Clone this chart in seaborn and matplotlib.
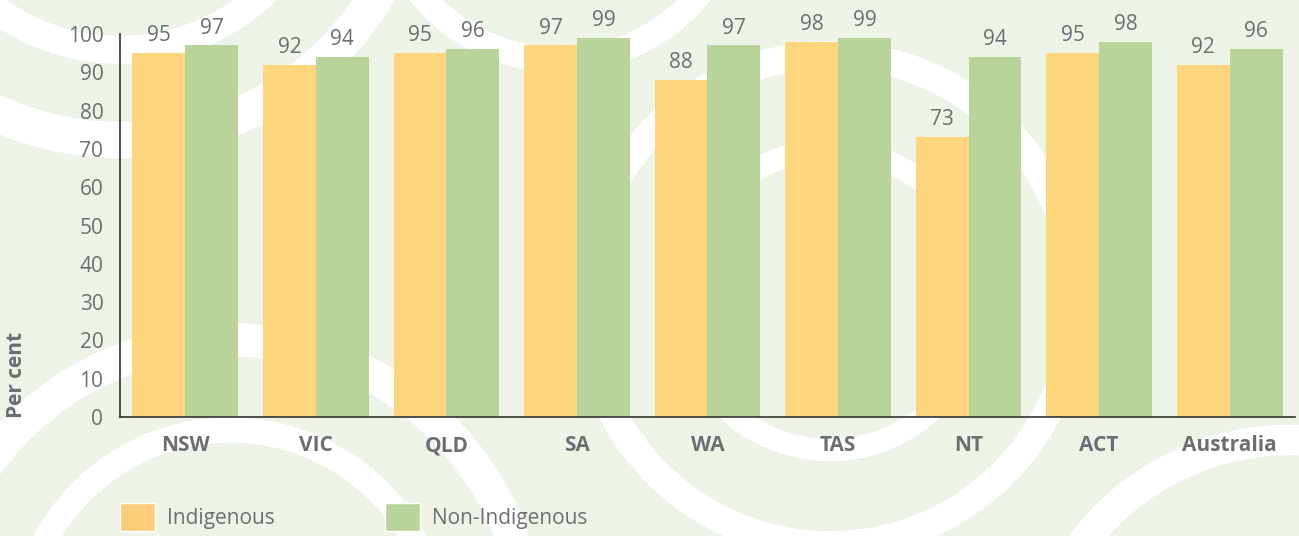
import matplotlib.pyplot as plt
import seaborn as sns
import pandas as pd
from matplotlib.patches import Patch, Circle

# Data
states = ["NSW", "VIC", "QLD", "SA", "WA", "TAS", "NT", "ACT", "Australia"]
indigenous = [95, 92, 95, 97, 88, 98, 73, 95, 92]
non_indigenous = [97, 94, 96, 99, 97, 99, 94, 98, 96]
groups = ["Indigenous", "Non-Indigenous"]
y_ticks = list(range(0, 101, 10))

YELLOW = "#fdd57c"
GREEN = "#b8d49a"
GREY = "#6d6e71"
BG = "#eef3e7"
FS = 15

df = pd.DataFrame({
    "state": states * 2,
    "group": [groups[0]] * len(states) + [groups[1]] * len(states),
    "value": indigenous + non_indigenous,
})

sns.set_theme(style="white")
plt.rcParams["font.family"] = ["Open Sans", "DejaVu Sans"]

fig = plt.figure(figsize=(12.99, 5.36), dpi=100)
fig.patch.set_facecolor(BG)

# ======================================================
# Decorative background rings
# ======================================================
bg = fig.add_axes([0, 0, 1, 1], zorder=0)
bg.set_xlim(0, 1299)
bg.set_ylim(536, 0)
bg.axis("off")
rings = [
    (230, 640, 300, 24), (230, 640, 210, 18),
    (120, -160, 300, 26), (120, -160, 210, 20),
    (830, 300, 150, 16), (830, 300, 245, 20),
    (1290, 700, 260, 22), (560, -120, 180, 18),
]
for cx, cy, r, lw in rings:
    bg.add_patch(Circle((cx, cy), r, fill=False, edgecolor="white", lw=lw))

# ======================================================
# Bars
# ======================================================
ax = fig.add_axes([120 / 1299, 1 - 417 / 536, 1175 / 1299, 383 / 536], zorder=1)
ax.patch.set_alpha(0)

sns.barplot(
    data=df, x="state", y="value", hue="group",
    palette=[YELLOW, GREEN], width=0.81, saturation=1,
    linewidth=0, legend=False, ax=ax,
)

for container in ax.containers:
    ax.bar_label(container, fmt="%d", padding=5, fontsize=FS, color=GREY)

ax.set_ylim(0, 100)
ax.set_xlim(-0.5, len(states) - 0.5)
ax.set_yticks(y_ticks)
ax.set_yticklabels([str(t) for t in y_ticks], fontsize=FS, color=GREY)
ax.set_xticks([i - 0.5 for i in range(len(states) + 1)], minor=True)
ax.set_xticks(range(len(states)))
ax.set_xticklabels(states, fontsize=FS, color=GREY, fontweight="bold")
ax.tick_params(axis="x", which="major", length=0, pad=13)
ax.tick_params(axis="x", which="minor", length=7, width=1.2, color="#333333")
ax.tick_params(axis="y", length=7, width=1.2, color="#333333", pad=5)

ax.set_xlabel("")
ax.set_ylabel("")
for side in ["top", "right"]:
    ax.spines[side].set_visible(False)
for side in ["left", "bottom"]:
    ax.spines[side].set_color("#333333")
    ax.spines[side].set_linewidth(1.2)

fig.text(17 / 1299, 1 - 418 / 536, "Per cent", rotation=90,
         ha="center", va="bottom", fontsize=FS, fontweight="bold", color=GREY)

# ======================================================
# Legend
# ======================================================
handles = [Patch(facecolor="#fdcd7b", label=groups[0]),
           Patch(facecolor=GREEN, label=groups[1])]
leg = fig.legend(
    handles=handles, loc="center left", ncol=2, frameon=False,
    bbox_to_anchor=(120 / 1299, 1 - 517 / 536),
    fontsize=FS, handlelength=1.68, handleheight=1.75,
    handletextpad=0.58, columnspacing=5.3, borderpad=0, borderaxespad=0,
)
for text in leg.get_texts():
    text.set_color(GREY)

fig.savefig("out.png", dpi=100, facecolor=BG)
